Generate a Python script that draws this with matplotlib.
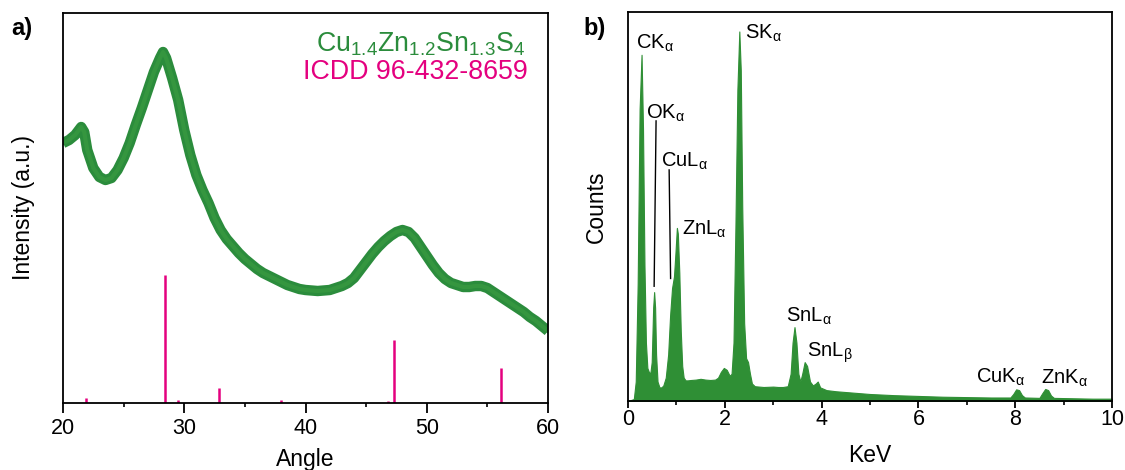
import matplotlib
matplotlib.use("Agg")
import matplotlib.pyplot as plt
from matplotlib.ticker import MultipleLocator

plt.rcParams['font.family'] = ['Liberation Sans', 'DejaVu Sans']
plt.rcParams['mathtext.fontset'] = 'custom'
plt.rcParams['mathtext.rm'] = 'Liberation Sans'
plt.rcParams['mathtext.it'] = 'Liberation Sans'
plt.rcParams['mathtext.bf'] = 'Liberation Sans:bold'

# ---------------- data: XRD (panel a) ----------------
xrd_angle = [20, 20.5, 21, 21.5, 21.75, 22, 22.5, 23, 23.5, 24, 24.5, 25, 25.5, 26, 26.5,
             27, 27.5, 28, 28.25, 28.5, 29, 29.5, 30, 30.5, 31, 31.5, 32, 32.5, 33, 33.5,
             34, 34.5, 35, 35.5, 36, 36.5, 37, 37.5, 38, 38.5, 39, 39.5, 40, 41, 42, 42.5,
             43, 43.5, 44, 44.5, 45, 45.5, 46, 46.5, 47, 47.5, 48, 48.5, 49, 49.5, 50,
             50.5, 51, 51.5, 52, 52.5, 53, 53.5, 54, 54.5, 55, 55.5, 56, 56.5, 57, 57.5,
             58, 58.5, 59, 59.5, 60]
xrd_intensity = [260, 263, 268, 276, 271, 253, 235, 226, 223, 225, 233, 245, 260, 278, 295,
                 313, 331, 345, 351, 345, 325, 303, 273, 248, 228, 213, 200, 185, 173, 164,
                 157, 150, 144, 139, 134, 130, 127, 124, 121, 118, 116, 114, 113, 112, 113, 115,
                 117, 120, 125, 133, 141, 149, 156, 162, 167, 171, 173, 171, 165, 156, 147,
                 138, 130, 124, 120, 118, 116, 116, 117, 117, 115, 111, 107, 103, 99, 95,
                 91, 86, 82, 77, 72]
ref_angle = [21.9, 28.45, 29.5, 32.9, 38.0, 46.8, 47.3, 56.1]
ref_height = [5, 128, 3, 15, 3, 2, 63, 35]

# ---------------- data: EDS (panel b) ----------------
eds_kev = [0.00, 0.12, 0.16, 0.20, 0.24, 0.28, 0.31, 0.34, 0.37, 0.40, 0.43, 0.46, 0.49,
           0.52, 0.54, 0.56, 0.58, 0.61, 0.65, 0.69, 0.73, 0.78, 0.83, 0.87, 0.91, 0.95,
           0.98, 1.01, 1.03, 1.06, 1.09, 1.12, 1.15, 1.19, 1.23, 1.30, 1.40, 1.50, 1.60,
           1.70, 1.80, 1.86, 1.92, 1.98, 2.04, 2.10, 2.14, 2.18, 2.22, 2.26, 2.30, 2.33,
           2.36, 2.40, 2.44, 2.48, 2.52, 2.56, 2.62, 2.80, 3.00, 3.10, 3.20, 3.30, 3.36,
           3.40, 3.44, 3.48, 3.52, 3.56, 3.60, 3.65, 3.70, 3.76, 3.82, 3.88, 3.92, 3.97,
           4.10, 4.30, 4.60, 5.00, 5.50, 6.00, 6.50, 7.00, 7.50, 7.90, 7.96, 8.02, 8.08,
           8.14, 8.20, 8.50, 8.56, 8.62, 8.68, 8.74, 8.80, 9.20, 9.60, 10.00]
eds_counts = [0, 0.5, 5, 30, 75, 89, 70, 35, 15, 8.5, 7.5, 7, 10,
              24, 28, 24, 12, 5, 3.5, 3.5, 4, 6, 12, 22, 29, 32,
              38, 44.5, 43, 33, 18, 9, 6, 5.3, 5.3, 5.4, 5.5, 5.7, 5.5,
              5.4, 5.5, 6, 7.5, 8.5, 8, 6.5, 7, 15, 45, 80, 95, 85,
              50, 20, 11, 10, 7, 4.5, 3.8, 3.6, 3.7, 3.6, 3.6, 3.8, 7,
              15, 19, 15, 7, 5, 7, 10, 9, 5, 4, 4.5, 5, 3.5,
              2.8, 2.5, 2.2, 1.8, 1.5, 1.3, 1.1, 1.0, 0.9, 0.9, 1.8, 3.0, 2.8,
              1.5, 0.9, 0.8, 2, 3.1, 2.8, 1.4, 0.8, 0.7, 0.6, 0.6]

peak_labels = ["CK$_{\\mathrm{α}}$", "SK$_{\\mathrm{α}}$", "OK$_{\\mathrm{α}}$",
               "CuL$_{\\mathrm{α}}$", "ZnL$_{\\mathrm{α}}$", "SnL$_{\\mathrm{α}}$",
               "SnL$_{\\mathrm{β}}$", "CuK$_{\\mathrm{α}}$", "ZnK$_{\\mathrm{α}}$"]
label_x = [0.17, 2.42, 0.37, 0.69, 1.11, 3.27, 3.70, 7.20, 8.54]
label_y = [92, 94.5, 74, 61.5, 44, 21.8, 12.3, 6.2, 5.8]
leader_x = [[0.58, 0.54], [0.85, 0.88]]
leader_y = [[72, 29.5], [59.4, 31.5]]

green = '#2b8c3c'
eds_green = '#2f8f35'
magenta = '#e4007f'

fig = plt.figure(figsize=(11.25, 4.7), dpi=100)
W, H = 1125, 470
axL = fig.add_axes([63 / W, (H - 403) / H, (548 - 63) / W, (403 - 13) / H])
axR = fig.add_axes([628 / W, (H - 401) / H, (1112 - 628) / W, (401 - 12) / H])

# panel a
axL.plot(xrd_angle, xrd_intensity, color=green, lw=7.5, solid_joinstyle='round',
         solid_capstyle='butt')
axL.plot(xrd_angle, xrd_intensity, color='#35963f', lw=3)
axL.vlines(ref_angle, 0, ref_height, color=magenta, lw=1.8)
axL.set_xlim(20, 60)
axL.set_ylim(0, 390)
axL.xaxis.set_major_locator(MultipleLocator(10))
axL.xaxis.set_minor_locator(MultipleLocator(5))
axL.set_yticks([])
axL.set_xlabel("Angle", fontsize=16.5, labelpad=6)
axL.set_ylabel("Intensity (a.u.)", fontsize=16.5, labelpad=20)
axL.text(0.953, 0.90, "Cu$_{1.4}$Zn$_{1.2}$Sn$_{1.3}$S$_{4}$", color=green, fontsize=19.3,
         ha='right', va='baseline', transform=axL.transAxes)
axL.text(0.959, 0.831, "ICDD 96-432-8659", color=magenta, fontsize=19.3,
         ha='right', va='baseline', transform=axL.transAxes)

# panel b
axR.fill_between(eds_kev, 0, eds_counts, color=eds_green, lw=0.8, edgecolor=eds_green)
axR.set_xlim(0, 10)
axR.set_ylim(0, 100)
axR.xaxis.set_major_locator(MultipleLocator(2))
axR.xaxis.set_minor_locator(MultipleLocator(1))
axR.set_yticks([])
axR.set_xlabel("KeV", fontsize=16.5, labelpad=10.5)
axR.set_ylabel("Counts", fontsize=16.5, labelpad=14.5)
for t, x, y in zip(peak_labels, label_x, label_y):
    axR.text(x, y, t, fontsize=14.5, ha='left', va='center')
for lx, ly in zip(leader_x, leader_y):
    axR.plot(lx, ly, color='black', lw=1)

for ax, ln, pd in ((axL, 7, 4), (axR, 5, 0.5)):
    for s in ax.spines.values():
        s.set_linewidth(1.3)
    ax.tick_params(axis='x', which='major', direction='out', length=ln, width=1.3,
                   labelsize=15.5, pad=pd)
    ax.tick_params(axis='x', which='minor', direction='out', length=3, width=1.2)

fig.text(11 / W, 1 - 29 / H, "a)", fontsize=17, fontweight='bold', va='center', ha='left')
fig.text(583 / W, 1 - 29 / H, "b)", fontsize=17, fontweight='bold', va='center', ha='left')

fig.savefig("out.png", dpi=100)
